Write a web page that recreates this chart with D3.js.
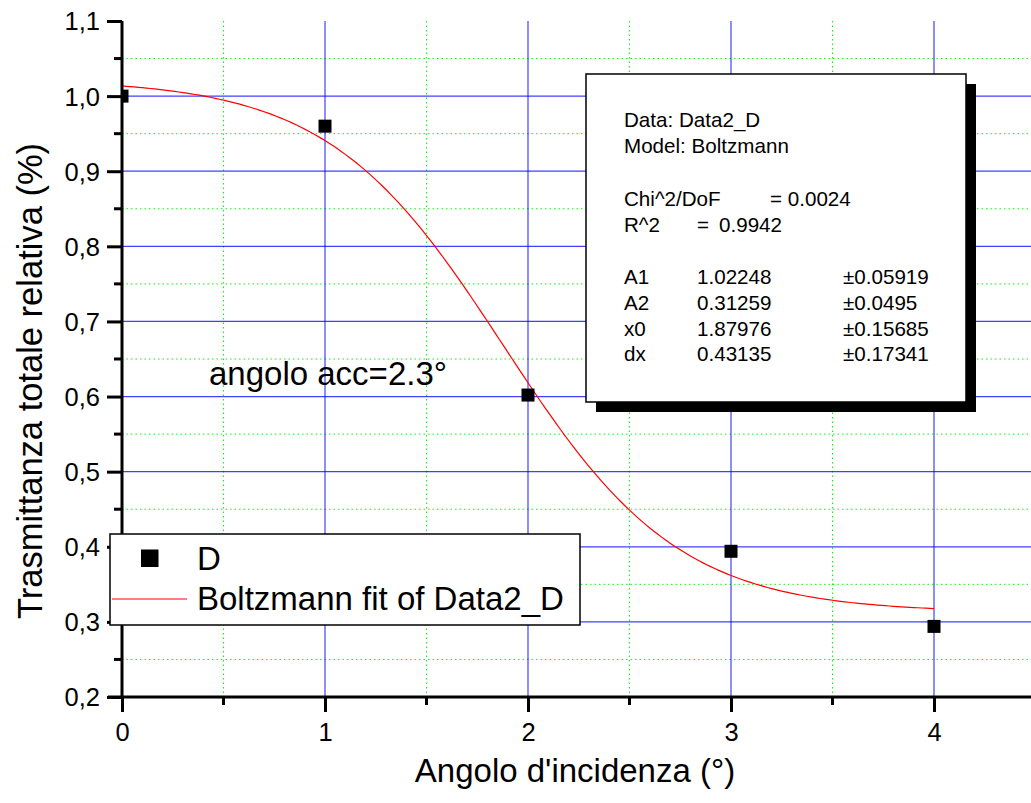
<!DOCTYPE html>
<html>
<head>
<meta charset="utf-8">
<script src="https://cdn.jsdelivr.net/npm/d3@7"></script>
<style>
  html, body { margin: 0; padding: 0; background: #fff; }
  svg { display: block; font-family: "Liberation Sans", Arial, sans-serif; }
</style>
</head>
<body>
<svg id="chart" width="1031" height="803"></svg>
<script>
// Measured transmittance vs. incidence angle (series "D")
const angles = [0, 1, 2, 3, 4];
const transmittance = [1.0, 0.96, 0.602, 0.394, 0.294];

// Boltzmann fit parameters
const paramNames = ["A1", "A2", "x0", "dx"];
const paramValues = [1.02248, 0.31259, 1.87976, 0.43135];
const paramErrors = ["±0.05919", "±0.0495", "±0.15685", "±0.17341"];
const paramText = ["1.02248", "0.31259", "1.87976", "0.43135"];

// Axis ticks
const xMajor = [0, 1, 2, 3, 4];
const xTickLabels = ["0", "1", "2", "3", "4"];
const xMinor = [0.5, 1.5, 2.5, 3.5, 4.5];
const yMajor = [0.2, 0.3, 0.4, 0.5, 0.6, 0.7, 0.8, 0.9, 1.0, 1.1];
const yTickLabels = ["0,2", "0,3", "0,4", "0,5", "0,6", "0,7", "0,8", "0,9", "1,0", "1,1"];
const yMinor = [0.25, 0.35, 0.45, 0.55, 0.65, 0.75, 0.85, 0.95, 1.05];

const svg = d3.select("#chart");
const plotLeft = 122, plotTop = 21, plotBottom = 697;

const x = d3.scaleLinear().domain([0, 4.5]).range([plotLeft, plotLeft + 4.5 * 203]);
const y = d3.scaleLinear().domain([0.2, 1.1]).range([plotBottom, plotTop]);

svg.append("defs").append("clipPath").attr("id", "plotClip")
  .append("rect").attr("x", plotLeft).attr("y", plotTop)
  .attr("width", 1031 - plotLeft).attr("height", plotBottom - plotTop);

// Minor grid (green dotted)
const grid = svg.append("g");
grid.selectAll(".gmx").data(xMinor).join("line")
  .attr("x1", d => x(d)).attr("x2", d => x(d)).attr("y1", plotTop).attr("y2", plotBottom)
  .attr("stroke", "#00ff00").attr("stroke-width", 1).attr("stroke-dasharray", "1.5,3");
grid.selectAll(".gmy").data(yMinor).join("line")
  .attr("x1", plotLeft).attr("x2", 1031).attr("y1", d => y(d)).attr("y2", d => y(d))
  .attr("stroke", "#00ff00").attr("stroke-width", 1).attr("stroke-dasharray", "1.5,3");

// Major grid (blue)
grid.selectAll(".gMx").data(xMajor.filter(d => d > 0)).join("line")
  .attr("x1", d => x(d)).attr("x2", d => x(d)).attr("y1", plotTop).attr("y2", plotBottom)
  .attr("stroke", "#0000ff").attr("stroke-width", 1.2).attr("stroke-opacity", 0.75);
grid.selectAll(".gMy").data(yMajor.filter(d => d > 0.2 && d < 1.1)).join("line")
  .attr("x1", plotLeft).attr("x2", 1031).attr("y1", d => y(d)).attr("y2", d => y(d))
  .attr("stroke", "#0000ff").attr("stroke-width", 1.2).attr("stroke-opacity", 0.75);

// Boltzmann fit curve
const [A1, A2, x0, dx] = paramValues;
const boltzmann = t => A2 + (A1 - A2) / (1 + Math.exp((t - x0) / dx));
const fitX = d3.range(0, 4.0001, 0.02);
svg.append("path")
  .datum(fitX)
  .attr("fill", "none").attr("stroke", "#ff0000").attr("stroke-width", 1.2)
  .attr("d", d3.line().x(d => x(d)).y(d => y(boltzmann(d))));

// Data markers
const ms = 13;
svg.append("g").attr("clip-path", "url(#plotClip)")
  .selectAll("rect").data(angles).join("rect")
  .attr("x", (d) => x(d) - ms / 2)
  .attr("y", (d, i) => y(transmittance[i]) - ms / 2)
  .attr("width", ms).attr("height", ms).attr("fill", "#000");

// Axes
const yAxis = d3.axisLeft(y).tickValues(yMajor).tickSize(15).tickPadding(7)
  .tickFormat((d, i) => yTickLabels[i]);
const gy = svg.append("g").attr("transform", `translate(${plotLeft},0)`).call(yAxis);
gy.select(".domain").attr("stroke-width", 3).attr("d", `M0,${plotTop}V${plotBottom}`);
gy.selectAll(".tick line").attr("stroke-width", 3);
gy.selectAll(".tick text").attr("font-size", 25.5).attr("font-family", "Liberation Sans, Arial, sans-serif")
  .attr("fill", "#000").attr("dy", "0.35em").attr("x", -22);
gy.selectAll(".ym").data(yMinor).join("line").attr("class", "ym")
  .attr("x1", -8).attr("x2", 0).attr("y1", d => y(d)).attr("y2", d => y(d))
  .attr("stroke", "#000").attr("stroke-width", 3);

const xAxis = d3.axisBottom(x).tickValues(xMajor).tickSize(15).tickPadding(11)
  .tickFormat((d, i) => xTickLabels[i]);
const gx = svg.append("g").attr("transform", `translate(0,${plotBottom})`).call(xAxis);
gx.select(".domain").attr("stroke-width", 3).attr("d", `M${plotLeft - 14},0H1031`);
gx.selectAll(".tick line").attr("stroke-width", 3);
gx.selectAll(".tick text").attr("font-size", 25.5).attr("font-family", "Liberation Sans, Arial, sans-serif")
  .attr("fill", "#000");
gx.selectAll(".xm").data(xMinor).join("line").attr("class", "xm")
  .attr("x1", d => x(d)).attr("x2", d => x(d)).attr("y1", 0).attr("y2", 8)
  .attr("stroke", "#000").attr("stroke-width", 3);

// Axis titles
svg.append("text").attr("x", 575).attr("y", 782).attr("text-anchor", "middle")
  .attr("font-size", 33).text("Angolo d'incidenza (°)");
svg.append("text").attr("transform", "translate(42,381) rotate(-90)").attr("text-anchor", "middle")
  .attr("font-size", 34.5).text("Trasmittanza totale relativa (%)");

// Annotation
svg.append("text").attr("x", 209).attr("y", 385).attr("font-size", 33).text("angolo acc=2.3°");

// Fit results box with drop shadow
const bx = 586, by = 74, bw = 380, bh = 328;
svg.append("rect").attr("x", bx + 10).attr("y", by + 10).attr("width", bw).attr("height", bh).attr("fill", "#000");
svg.append("rect").attr("x", bx).attr("y", by).attr("width", bw).attr("height", bh)
  .attr("fill", "#fff").attr("stroke", "#000").attr("stroke-width", 1.5);
const box = svg.append("g").attr("font-size", 20.6).attr("fill", "#000");
box.append("text").attr("x", 624).attr("y", 127).text("Data: Data2_D");
box.append("text").attr("x", 624).attr("y", 153).text("Model: Boltzmann");
box.append("text").attr("x", 624).attr("y", 206).text("Chi^2/DoF");
box.append("text").attr("x", 770).attr("y", 206).text("= 0.0024");
box.append("text").attr("x", 624).attr("y", 232).text("R^2");
box.append("text").attr("x", 697).attr("y", 232).text("=");
box.append("text").attr("x", 719).attr("y", 232).text("0.9942");
const rowsY = [284, 310, 336, 361];
paramNames.forEach((n, i) => {
  box.append("text").attr("x", 624).attr("y", rowsY[i]).text(n);
  box.append("text").attr("x", 697).attr("y", rowsY[i]).text(paramText[i]);
  box.append("text").attr("x", 843).attr("y", rowsY[i]).text(paramErrors[i]);
});

// Legend
const lg = svg.append("g");
lg.append("rect").attr("x", 110).attr("y", 534).attr("width", 470).attr("height", 91)
  .attr("fill", "#fff").attr("stroke", "#000").attr("stroke-width", 1.5);
lg.append("rect").attr("x", 141).attr("y", 549.5).attr("width", 17.5).attr("height", 17.5).attr("fill", "#000");
lg.append("text").attr("x", 197).attr("y", 570).attr("font-size", 33).text("D");
lg.append("line").attr("x1", 112).attr("x2", 187).attr("y1", 599).attr("y2", 599)
  .attr("stroke", "#ff0000").attr("stroke-width", 1.2);
lg.append("text").attr("x", 197).attr("y", 610).attr("font-size", 33).text("Boltzmann fit of Data2_D");
</script>
</body>
</html>
